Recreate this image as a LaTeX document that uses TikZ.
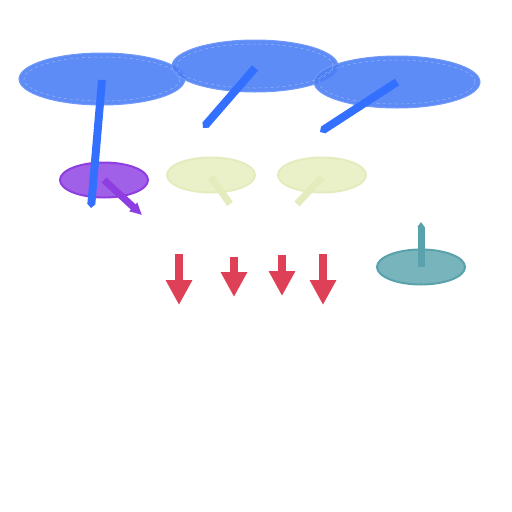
\documentclass[tikz,border=0pt]{standalone}
\usetikzlibrary{arrows.meta}
\usetikzlibrary{shapes.geometric}
\definecolor{bluefill}{HTML}{4D7FF5}
\definecolor{bluestem}{HTML}{3370FF}
\definecolor{purplefill}{HTML}{A060E8}
\definecolor{purpleline}{HTML}{8E3EE0}
\definecolor{yellowfill}{HTML}{EAF0C8}
\definecolor{yellowline}{HTML}{E4ECBE}
\definecolor{tealfill}{HTML}{78B4BC}
\definecolor{tealline}{HTML}{5AA2AB}
\definecolor{redarrow}{HTML}{DE4157}
\tikzset{
  bigdisc/.style={ellipse, minimum width=166pt, minimum height=52pt, fill=bluefill, fill opacity=0.9, draw=bluefill!80!white, line width=1pt, inner sep=0pt},
  smalldisc/.style={ellipse, minimum width=88pt, minimum height=35pt, inner sep=0pt, line width=2pt},
  bluestemline/.style={draw=bluestem, line width=8pt},
  redarr/.style={draw=redarrow, line width=8pt, -{Triangle[width=25pt,length=25pt]}, redarrow}
}
\begin{document}
\begin{tikzpicture}[x=1pt,y=-1pt]
\useasboundingbox (0,0) rectangle (512,512);
% small discs
\node[smalldisc, fill=purplefill, draw=purpleline] (p) at (104,180) {};
\node[smalldisc, fill=yellowfill, draw=yellowline] (y1) at (211,175) {};
\node[smalldisc, fill=yellowfill, draw=yellowline] (y2) at (322,175) {};
\node[smalldisc, fill=tealfill, draw=tealline] (t) at (421,267) {};
% big discs
\node[bigdisc] (b1) at (102,79) {};
\node[bigdisc] (b2) at (255,66) {};
\node[bigdisc] (b3) at (397,82) {};
\draw[white, dashed, opacity=0.35, line width=0.5pt] (b1) ellipse (78pt and 22pt);
\draw[white, dashed, opacity=0.35, line width=0.5pt] (b2) ellipse (78pt and 22pt);
\draw[white, dashed, opacity=0.35, line width=0.5pt] (b3) ellipse (78pt and 22pt);
% stems
\coordinate (s1) at (91,208);
\coordinate (s2) at (203,128);
\coordinate (s3) at (320,132);
\coordinate (sp) at (142,215);
\coordinate (sy1) at (230,204);
\coordinate (sy2) at (297,204);
\coordinate (st) at (421,222);
\draw[bluestemline, -{Triangle[width=8pt,length=4pt]}, bluestem] (102,80) -- (s1);
\draw[bluestemline, -{Triangle[width=8pt,length=4pt]}, bluestem] (255,68) -- (s2);
\draw[bluestemline, -{Triangle[width=8pt,length=4pt]}, bluestem] (397,82) -- (s3);
\draw[draw=purpleline, line width=7pt, -{Triangle[width=11pt,length=12pt]}, purpleline] (p.center) -- (sp);
\draw[draw=yellowline, line width=7pt] (211,177) -- (sy1);
\draw[draw=yellowline, line width=7pt] (322,177) -- (sy2);
\draw[draw=tealline, line width=7pt, -{Triangle[width=7pt,length=5pt]}, tealline] (421,267) -- (st);
% red arrows
\coordinate (r1a) at (179,254); \coordinate (r1b) at (179,305);
\coordinate (r2a) at (234,257); \coordinate (r2b) at (234,297);
\coordinate (r3a) at (282,255); \coordinate (r3b) at (282,296);
\coordinate (r4a) at (323,254); \coordinate (r4b) at (323,305);
\draw[redarr] (r1a) -- (r1b);
\draw[redarr] (r2a) -- (r2b);
\draw[redarr] (r3a) -- (r3b);
\draw[redarr] (r4a) -- (r4b);
\end{tikzpicture}
\end{document}
